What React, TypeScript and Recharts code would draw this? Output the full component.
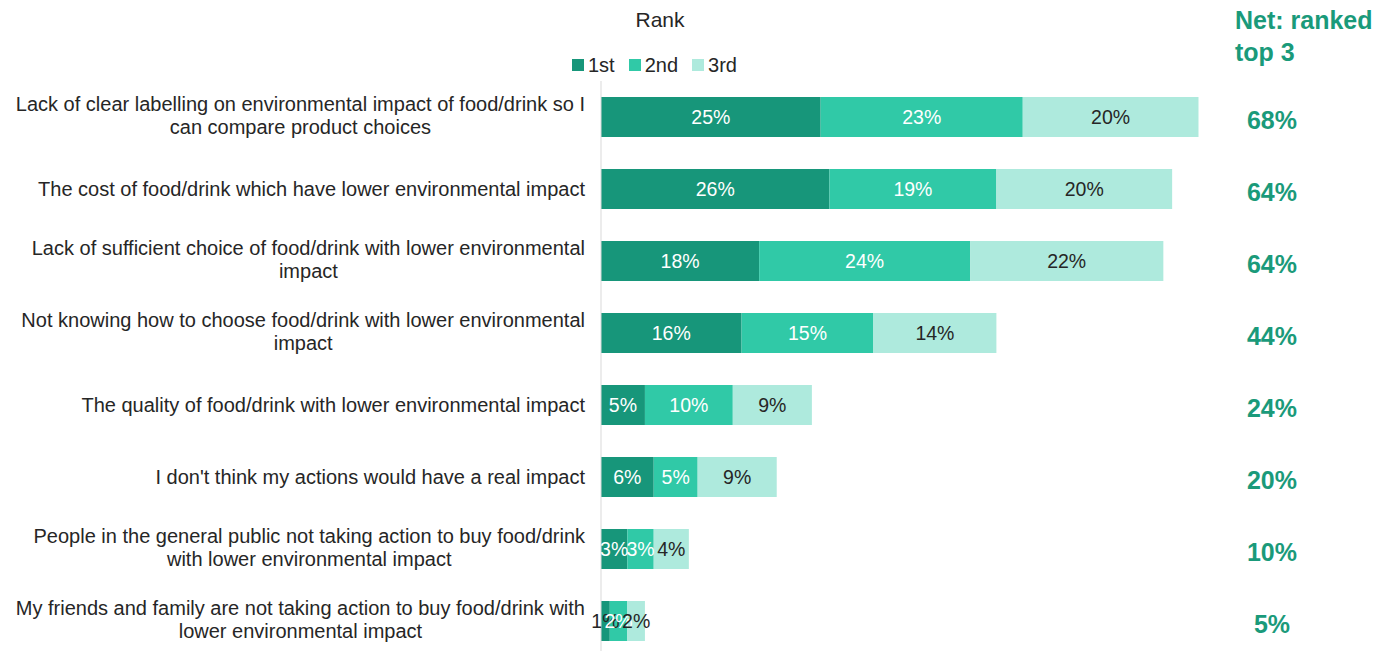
import React from "react";
import { BarChart, Bar, XAxis, YAxis, LabelList } from "recharts";

const COLORS = {
  first: "#17967A",
  second: "#30C9A7",
  third: "#AEEADD",
};
const NET_COLOR = "#1A9A7A";
const TEXT = "#262626";
const FONT = "'Liberation Sans', Arial, sans-serif";

// barriers, top to bottom (\n = line break as in the original slide)
const categories = [
  "Lack of clear labelling on environmental impact of food/drink so I\ncan compare product choices",
  "The cost of food/drink which have lower environmental impact",
  "Lack of sufficient choice of food/drink with lower environmental\nimpact",
  "Not knowing how to choose food/drink with lower environmental\nimpact",
  "The quality of food/drink with lower environmental impact",
  "I don't think my actions would have a real impact",
  "People in the general public not taking action to buy food/drink\nwith lower environmental impact",
  "My friends and family are not taking action to buy food/drink with\nlower environmental impact",
];
const rank1 = [25, 26, 18, 16, 5, 6, 3, 1];
const rank2 = [23, 19, 24, 15, 10, 5, 3, 2];
const rank3 = [20, 20, 22, 14, 9, 9, 4, 2];
const netTop3 = [68, 64, 64, 44, 24, 20, 10, 5];

const legendItems = [
  { label: "1st", color: COLORS.first },
  { label: "2nd", color: COLORS.second },
  { label: "3rd", color: COLORS.third },
];

const chartData = categories.map((name, i) => ({
  name,
  first: rank1[i],
  second: rank2[i],
  third: rank3[i],
  net: netTop3[i],
}));

let ctx: CanvasRenderingContext2D | null = null;
const textWidth = (s: string) => {
  if (!ctx) ctx = document.createElement("canvas").getContext("2d");
  if (!ctx) return s.length * 9.5;
  ctx.font = `20px ${FONT}`;
  return ctx.measureText(s).width;
};

const CategoryTick = ({ x, y, payload }: any) => {
  const lines: string[] = String(payload.value).split("\n");
  if (lines.length === 1) {
    return (
      <text x={x} y={y} dy={7} textAnchor="end" fontSize={20} fill={TEXT}>
        {lines[0]}
      </text>
    );
  }
  const w = Math.max(...lines.map(textWidth));
  const cx = x - w / 2;
  return (
    <text x={cx} y={y} textAnchor="middle" fontSize={20} fill={TEXT}>
      {lines.map((l, i) => (
        <tspan key={i} x={cx} dy={i === 0 ? -6 : 23}>
          {l}
        </tspan>
      ))}
    </text>
  );
};

const segmentLabel = (dark: boolean) => (props: any) => {
  const { x, y, width, height, value } = props;
  const fill = dark || width < 12 ? TEXT : "#ffffff";
  return (
    <text
      x={x + width / 2}
      y={y + height / 2}
      dy={7}
      textAnchor="middle"
      fontSize={19.5}
      fill={fill}
    >
      {`${value}%`}
    </text>
  );
};

const netLabel = (props: any) => {
  const { y, height, value } = props;
  return (
    <text
      x={1272}
      y={y + height / 2}
      dy={12}
      textAnchor="middle"
      fontSize={25}
      fontWeight="bold"
      fill={NET_COLOR}
    >
      {`${value}%`}
    </text>
  );
};

export default function App() {
  return (
    <div
      style={{
        position: "fixed",
        left: 0,
        top: 0,
        width: 1391,
        height: 651,
        overflow: "hidden",
        background: "#fff",
        fontFamily: FONT,
      }}
    >
      <div
        style={{
          position: "absolute",
          left: 610,
          top: 8,
          width: 100,
          textAlign: "center",
          fontSize: 21,
          lineHeight: "24px",
          color: TEXT,
        }}
      >
        Rank
      </div>
      <div
        style={{
          position: "absolute",
          left: 572,
          top: 53,
          display: "flex",
          fontSize: 20,
          lineHeight: "24px",
          color: TEXT,
        }}
      >
        {legendItems.map((item) => (
          <div key={item.label} style={{ display: "flex", alignItems: "center", marginRight: 14 }}>
            <span
              style={{
                display: "inline-block",
                width: 12,
                height: 12,
                background: item.color,
                marginRight: 4,
              }}
            />
            {item.label}
          </div>
        ))}
      </div>
      <div
        style={{
          position: "absolute",
          left: 1235,
          top: 4,
          fontSize: 25,
          lineHeight: "32px",
          fontWeight: "bold",
          color: NET_COLOR,
        }}
      >
        Net: ranked
        <br />
        top 3
      </div>
      <BarChart
        width={1391}
        height={660}
        data={chartData}
        layout="vertical"
        margin={{ top: 81, right: 131, bottom: 3, left: 0 }}
        barSize={40}
        style={{ fontFamily: FONT }}
      >
        <XAxis type="number" domain={[0, 75]} hide />
        <YAxis
          type="category"
          dataKey="name"
          width={601}
          tickSize={0}
          tickMargin={16}
          tick={<CategoryTick />}
          axisLine={{ stroke: "#D9D9D9" }}
          interval={0}
        />
        <Bar dataKey="first" name="1st" stackId="a" fill={COLORS.first} isAnimationActive={false}>
          <LabelList dataKey="first" content={segmentLabel(false)} />
        </Bar>
        <Bar dataKey="second" name="2nd" stackId="a" fill={COLORS.second} isAnimationActive={false}>
          <LabelList dataKey="second" content={segmentLabel(false)} />
        </Bar>
        <Bar dataKey="third" name="3rd" stackId="a" fill={COLORS.third} isAnimationActive={false}>
          <LabelList dataKey="third" content={segmentLabel(true)} />
          <LabelList dataKey="net" content={netLabel} />
        </Bar>
      </BarChart>
    </div>
  );
}
